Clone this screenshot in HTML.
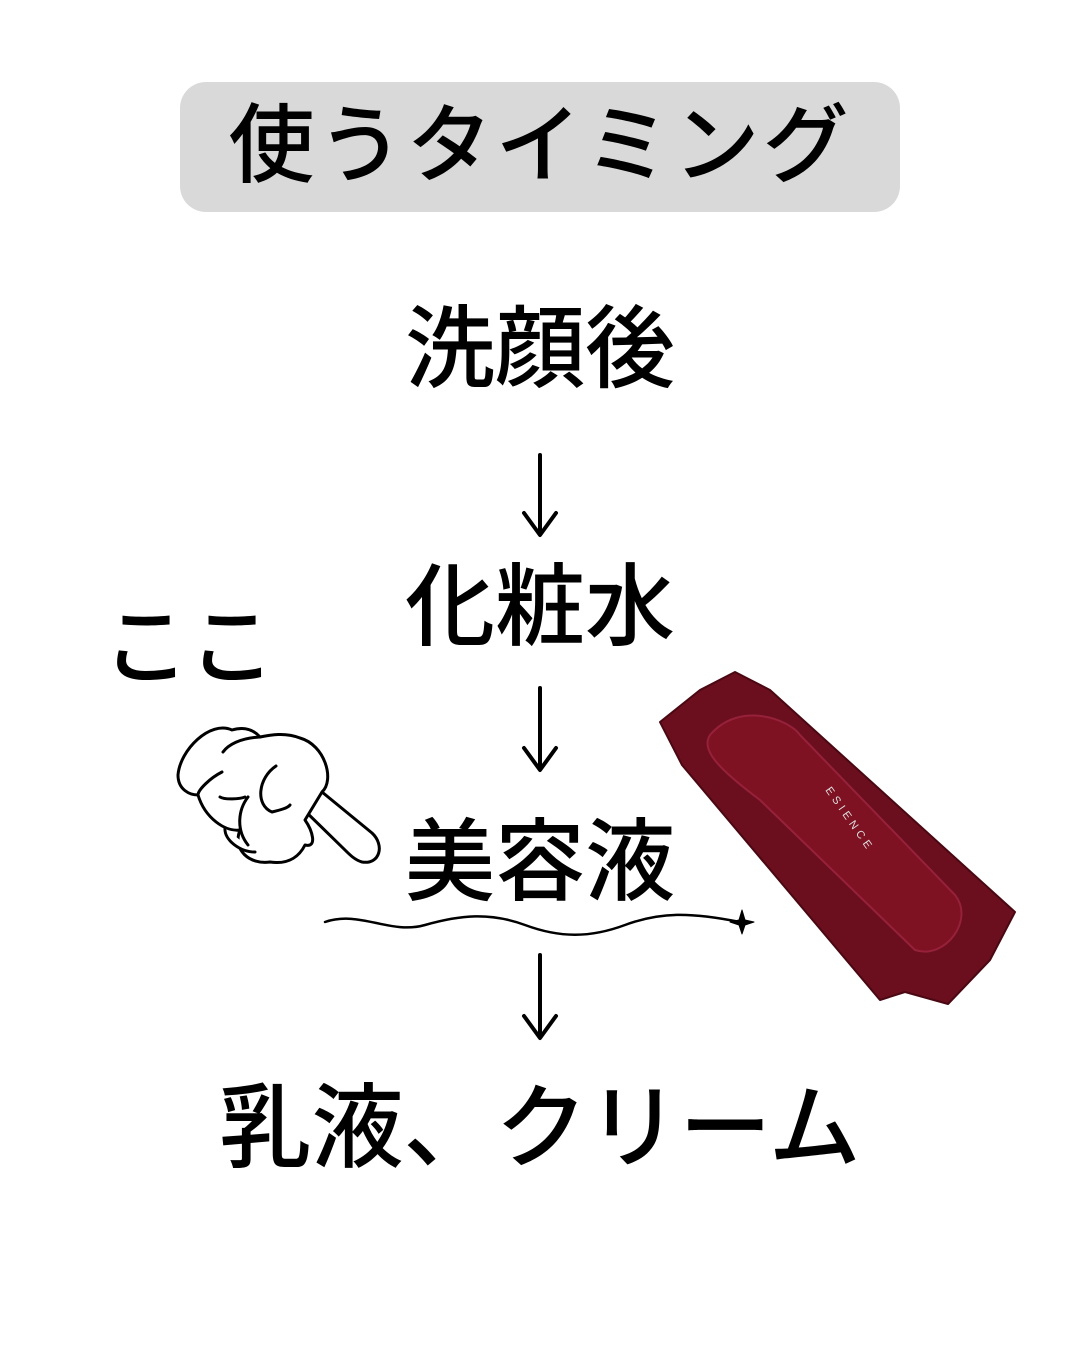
<!DOCTYPE html>
<html><head><meta charset="utf-8"><style>
html,body{margin:0;padding:0;background:#fff;}
body{width:1080px;height:1350px;position:relative;overflow:hidden;font-family:"Liberation Sans","Noto Sans CJK JP",sans-serif;color:#000;font-weight:500;}
.t{position:absolute;left:0;width:1080px;text-align:center;line-height:1;white-space:nowrap;}
</style></head><body>
<div style="position:absolute;left:180px;top:82px;width:720px;height:130px;background:#d9d9d9;border-radius:26px;"></div>
<div class="t" style="top:103px;font-size:86px;letter-spacing:3px;">使うタイミング</div>
<div class="t" style="top:305px;font-size:90px;">洗顔後</div>
<div class="t" style="top:563px;font-size:90px;">化粧水</div>
<div class="t" style="top:818px;font-size:90px;">美容液</div>
<div class="t" style="top:1083px;font-size:92px;">乳液、クリーム</div>
<div style="position:absolute;left:103px;top:605px;font-size:86px;line-height:1;white-space:nowrap;">ここ</div>
<svg width="1080" height="1350" style="position:absolute;left:0;top:0" fill="none" stroke="#000" stroke-width="4" stroke-linecap="round" stroke-linejoin="round">
<path d="M540 455V533M524 513L540 535L556 513"/>
<path d="M540 688V768M524 748L540 770L556 748"/>
<path d="M540 955V1036M524 1016L540 1038L556 1016"/>
<path d="M325 922 C360 910,390 935,425 925 S490 912,525 925 S590 938,625 925 S690 912,740 922" stroke-width="2.5"/>
<path d="M742 910 L745 920 L754 922 L745 925 L742 934 L739 925 L730 922 L739 920Z" fill="#000" stroke-width="1"/>
<g stroke-width="3" fill="#fff">
<path d="M322 792 L372 833 C385 845,380 865,362 862 C355 860,350 855,345 850 L302 808"/>
<path d="M232 730 C210 720,180 750,178 775 C178 790,190 795,198 795 C205 818,225 832,240 830 C232 850,250 865,270 862 C290 865,300 855,305 845 C318 848,312 830,305 820 L322 792 C335 780,325 745,300 738 C285 732,270 735,260 737 C252 728,242 727,232 730Z"/>
<path d="M222 772 C210 778,198 790,198 795 M220 797 C225 800,240 799,245 797 M276 766 C258 778,255 805,272 812 C280 810,288 808,290 805 M248 797 C238 810,236 830,248 845 M225 828 C224 840,240 852,255 852 M223 752 C228 745,240 738,260 737"/>
</g>
<polygon points="660,722 700,690 735,672 770,690 1015,912 990,960 948,1004 905,992 880,1000 682,765" fill="#6b0f1e" stroke="#4a0813" stroke-width="2"/>
<path d="M710 735 C740 700,790 720,800 735 L955 895 C975 920,945 960,915 950 L760 800 C720 770,700 750,710 735Z" fill="#7e1122" stroke="#95213a" stroke-width="2"/>
<text x="0" y="0" transform="translate(825,790) rotate(55)" font-size="11" fill="#ddd" stroke="none" letter-spacing="4" font-family="Liberation Sans, sans-serif">ESIENCE</text>
</svg>
</body></html>
